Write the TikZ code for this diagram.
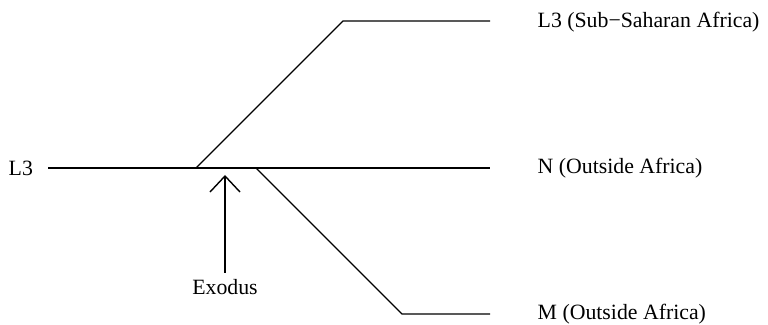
\documentclass[tikz,border=0pt]{standalone}
\usepackage{fontspec}
\setmainfont{Liberation Serif}
\usetikzlibrary{arrows.meta}

\begin{document}
\begin{tikzpicture}[x=0.5pt,y=-0.5pt,line width=0.7pt,
    lbl/.style={inner sep=0pt,font=\fontsize{10.9}{13}\selectfont}]
  \useasboundingbox (0,0) rectangle (768,325);

  % labels
  \node[lbl,anchor=west] (root) at (8,168) {L3};
  \node[lbl,anchor=west] (ssa) at (537,22) {L3 (Sub−Saharan Africa)};
  \node[lbl,anchor=west] (nout) at (537,168) {N (Outside Africa)};
  \node[lbl,anchor=west] (mout) at (537,314) {M (Outside Africa)};
  \node[lbl] (exodus) at (225,287) {Exodus};

  % branch points
  \coordinate (start) at (48,168);
  \coordinate (splitL3) at (196,168);
  \coordinate (splitM) at (256,168);
  \coordinate (cornerL3) at (343,21);
  \coordinate (cornerM) at (402,314);
  \coordinate (endL3) at (490,21);
  \coordinate (endN) at (490,168);
  \coordinate (endM) at (490,314);

  \draw (start) -- (endN);
  \draw (splitL3) -- (cornerL3) -- (endL3);
  \draw (splitM) -- (cornerM) -- (endM);

  % exodus arrow
  \draw[-{Straight Barb[length=8pt,width=15pt]}] (exodus.north) ++(0,-6) coordinate (arrowfoot)
    (arrowfoot) -- (225,175);
\end{tikzpicture}
\end{document}
